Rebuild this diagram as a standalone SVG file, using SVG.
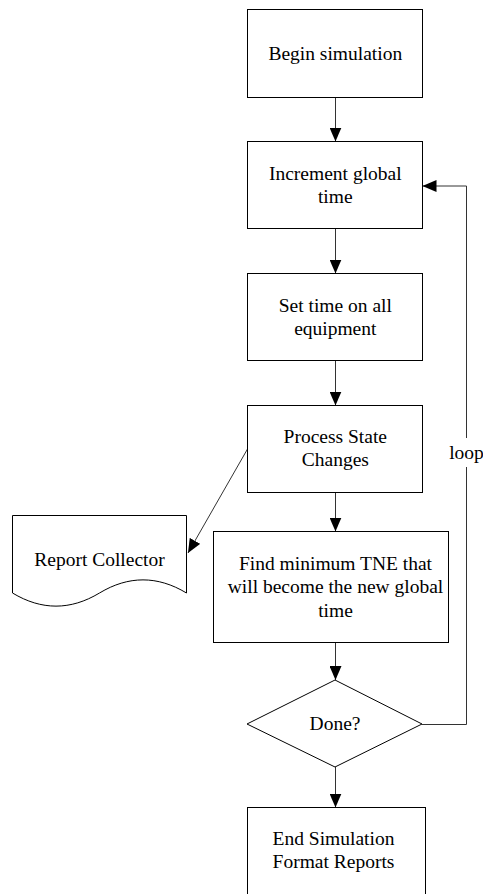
<svg xmlns="http://www.w3.org/2000/svg" width="483" height="894" viewBox="0 0 483 894">
<style>
.box{fill:#fff;stroke:#000;stroke-width:1}
.t{font-family:'Liberation Serif','Times New Roman',Times,serif;font-size:19.5px;fill:#000;text-anchor:middle}
.c{fill:none;stroke:#333;stroke-width:1}
</style>
<defs>
<marker id="ah" markerWidth="14" markerHeight="12" refX="14" refY="6" orient="auto" markerUnits="userSpaceOnUse">
<path d="M0,0 L14,6 L0,12 Z" fill="#000"/>
</marker>
</defs>
<rect width="483" height="894" fill="#fff"/>
<g id="connectors">
<line class="c" x1="335.5" y1="97.5" x2="335.5" y2="141.5" marker-end="url(#ah)"/>
<line class="c" x1="335.5" y1="228.5" x2="335.5" y2="273.5" marker-end="url(#ah)"/>
<line class="c" x1="335.5" y1="360.5" x2="335.5" y2="405.5" marker-end="url(#ah)"/>
<line class="c" x1="335.5" y1="492.5" x2="335.5" y2="531.5" marker-end="url(#ah)"/>
<line class="c" x1="335.5" y1="642.5" x2="335.5" y2="680" marker-end="url(#ah)"/>
<line class="c" x1="335.5" y1="767" x2="335.5" y2="807.5" marker-end="url(#ah)"/>
<polyline class="c" points="422,724.5 466.5,724.5 466.5,186 422.5,186" marker-end="url(#ah)"/>
<line class="c" x1="247.5" y1="449" x2="188" y2="553" marker-end="url(#ah)"/>
<rect x="448" y="438" width="35" height="29" fill="#fff"/>
<text class="t" x="466.5" y="459">loop</text>
</g>
<g id="begin">
<rect class="box" x="247.5" y="9.5" width="175" height="88"/>
<text class="t" x="335.3" y="60">Begin simulation</text>
</g>
<g id="increment">
<rect class="box" x="247.5" y="141.5" width="175" height="87"/>
<text class="t" x="335.3" y="179.5">Increment global</text>
<text class="t" x="335.3" y="202.8">time</text>
</g>
<g id="settime">
<rect class="box" x="247.5" y="273.5" width="175" height="87"/>
<text class="t" x="335.3" y="311.7">Set time on all</text>
<text class="t" x="335.3" y="335">equipment</text>
</g>
<g id="process">
<rect class="box" x="247.5" y="405.5" width="175" height="87"/>
<text class="t" x="335.3" y="442.7">Process State</text>
<text class="t" x="335.3" y="466">Changes</text>
</g>
<g id="report">
<path class="box" d="M12.5,515.5 H186.5 V593 C157.5,575.5 128.5,575.5 99.5,593 C70.5,610.5 41.5,610.5 12.5,593 Z"/>
<text class="t" x="99.5" y="566">Report Collector</text>
</g>
<g id="find">
<rect class="box" x="213.5" y="531.5" width="235" height="111"/>
<text class="t" x="335.5" y="570">Find minimum TNE that</text>
<text class="t" x="335.5" y="593.3">will become the new global</text>
<text class="t" x="335.5" y="616.7">time</text>
</g>
<g id="done">
<polygon class="box" points="335,680 422,724 335,767 247,724"/>
<text class="t" x="335" y="730">Done?</text>
</g>
<g id="end">
<rect class="box" x="247.5" y="807.5" width="178" height="100"/>
<text class="t" x="333.5" y="845">End Simulation</text>
<text class="t" x="333.5" y="868.3">Format Reports</text>
</g>
</svg>
